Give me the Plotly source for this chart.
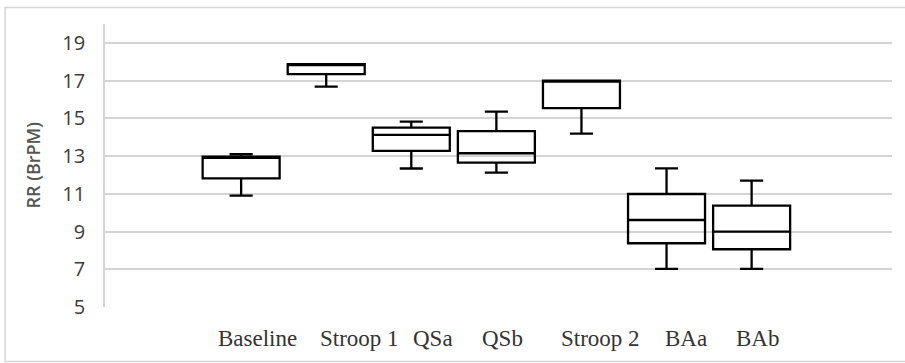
import plotly.graph_objects as go

categories = ["Baseline", "Stroop 1", "QSa", "QSb", "Stroop 2", "BAa", "BAb"]
lower_whisker = [10.90, 16.68, 12.34, 12.12, 14.19, 7.02, 7.02]
q1_values = [11.82, 17.34, 13.27, 12.65, 15.54, 8.38, 8.06]
median_values = [12.90, 17.87, 14.12, 13.15, 17.00, 9.61, 8.99]
q3_values = [12.97, 17.87, 14.51, 14.32, 17.00, 10.99, 10.37]
upper_whisker = [13.10, 17.87, 14.83, 15.36, 17.00, 12.35, 11.70]
# label shift (in category units) as typed under the chart
label_shift = [0.19, 0.39, 0.26, 0.07, 0.22, 0.23, 0.07]
y_ticks = [5, 7, 9, 11, 13, 15, 17, 19]

fig = go.Figure()
fig.add_trace(go.Box(
    x=categories,
    q1=q1_values,
    median=median_values,
    q3=q3_values,
    lowerfence=lower_whisker,
    upperfence=upper_whisker,
    width=0.905,
    whiskerwidth=0.3,
    fillcolor="rgba(0,0,0,0)",
    line=dict(color="black", width=2.3),
    boxpoints=False,
    hoverinfo="skip",
    showlegend=False,
))

for i, (lab, sh) in enumerate(zip(categories, label_shift)):
    fig.add_annotation(
        x=i + sh, y=-0.113, xref="x", yref="paper",
        text=lab, showarrow=False, xanchor="center", yanchor="middle",
        font=dict(family="Liberation Serif", size=23, color="#333333"),
    )

fig.add_annotation(
    x=-0.0915, y=0.5, xref="paper", yref="paper",
    text="RR (BrPM)", textangle=-90, showarrow=False,
    xanchor="center", yanchor="middle",
    font=dict(family="Open Sans", size=18, color="#555555", weight=600),
)

# outer light border
fig.add_shape(type="rect", xref="paper", yref="paper",
              x0=-0.127, x1=1.02, y0=-0.1926, y1=1.058,
              line=dict(color="#d6d6d6", width=1.5), fillcolor="rgba(0,0,0,0)")

fig.update_layout(
    width=905, height=363,
    margin=dict(l=105, r=13, t=24, b=56),
    paper_bgcolor="white", plot_bgcolor="white",
    xaxis=dict(type="category", range=[-1.6, 7.65], showticklabels=False,
               showgrid=False, zeroline=False, showline=False, fixedrange=True),
    yaxis=dict(range=[5, 20], tickvals=y_ticks, showgrid=True,
               gridcolor="#d4d4d4", gridwidth=1.6, zeroline=False,
               showline=True, linecolor="#d4d4d4", linewidth=1.6,
               ticks="", ticklabelstandoff=14,
               tickfont=dict(family="Open Sans", size=20, color="#3c3c3c")),
)

fig.write_html("out.html", config={"displayModeBar": False},
               post_script="document.body.style.margin='0';document.body.style.overflow='hidden';")
